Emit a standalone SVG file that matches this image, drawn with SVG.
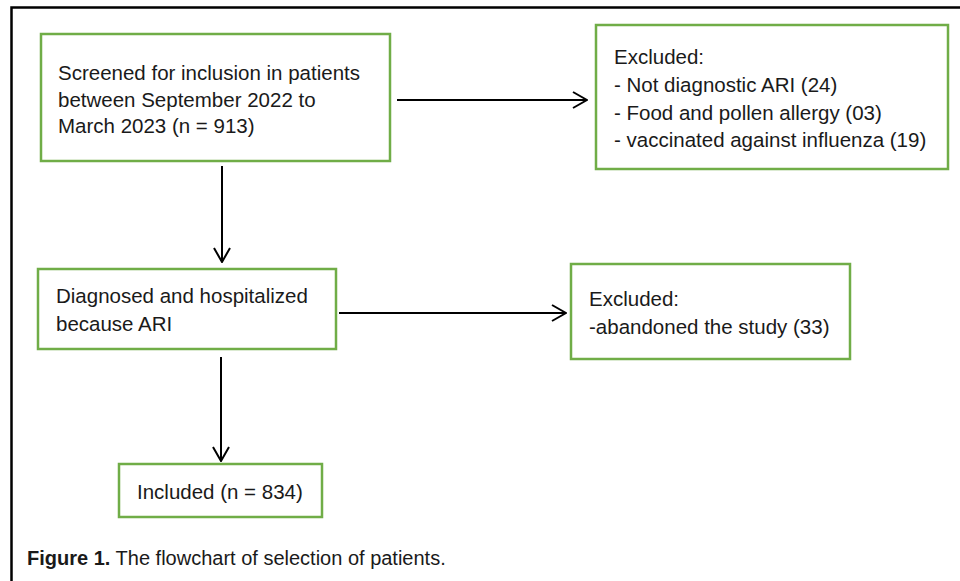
<svg xmlns="http://www.w3.org/2000/svg" width="960" height="581" viewBox="0 0 960 581">
<defs>
<style>
.box{fill:#fff;stroke:#70ad47;stroke-width:2.5}
.t{font-family:"Liberation Sans",Arial,sans-serif;font-size:20.5px;fill:#1a1a1a}
.cap{font-family:"Liberation Sans",Arial,sans-serif;font-size:20px;fill:#1a1a1a}
.ln{stroke:#000;stroke-width:2;fill:none}
.frame{stroke:#000;stroke-width:2.5;fill:none}
</style>
<marker id="ah" viewBox="0 0 16 18" refX="15" refY="9" markerWidth="16" markerHeight="18" markerUnits="userSpaceOnUse" orient="auto">
<path d="M1,1 L15,9 L1,17" fill="none" stroke="#000" stroke-width="2"/>
</marker>
</defs>
<rect width="960" height="581" fill="#fff"/>
<path class="frame" d="M11.5,581 V7.5 H960"/>
<g id="screened">
<rect class="box" x="41" y="34" width="349" height="127"/>
<text class="t" x="58" y="80">Screened for inclusion in patients</text>
<text class="t" x="58" y="106.5">between September 2022 to</text>
<text class="t" x="58" y="133">March 2023 (n = 913)</text>
</g>
<g id="excluded1">
<rect class="box" x="596" y="25" width="352" height="144"/>
<text class="t" x="614" y="64">Excluded:</text>
<text class="t" x="614" y="92">- Not diagnostic ARI (24)</text>
<text class="t" x="614" y="119.5">- Food and pollen allergy (03)</text>
<text class="t" x="614" y="147">- vaccinated against influenza (19)</text>
</g>
<g id="diagnosed">
<rect class="box" x="38" y="269" width="298" height="80"/>
<text class="t" x="56" y="303">Diagnosed and hospitalized</text>
<text class="t" x="56" y="331">because ARI</text>
</g>
<g id="excluded2">
<rect class="box" x="571" y="264" width="279" height="95"/>
<text class="t" x="589" y="306">Excluded:</text>
<text class="t" x="589" y="334">-abandoned the study (33)</text>
</g>
<g id="included">
<rect class="box" x="119" y="464" width="203" height="53"/>
<text class="t" x="137" y="499">Included (n = 834)</text>
</g>
<g id="connectors">
<line class="ln" x1="397" y1="100" x2="587" y2="100" marker-end="url(#ah)"/>
<line class="ln" x1="222" y1="166" x2="222" y2="262" marker-end="url(#ah)"/>
<line class="ln" x1="339" y1="313" x2="566" y2="313" marker-end="url(#ah)"/>
<line class="ln" x1="221" y1="357" x2="221" y2="461" marker-end="url(#ah)"/>
</g>
<text class="cap" x="27" y="565"><tspan font-weight="bold">Figure 1.</tspan> The flowchart of selection of patients.</text>
</svg>
